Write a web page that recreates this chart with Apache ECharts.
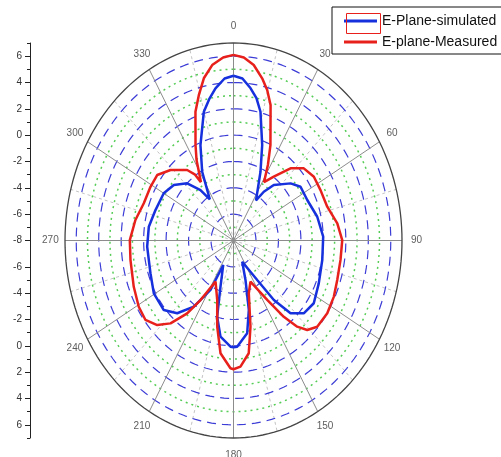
<!DOCTYPE html>
<html><head><meta charset="utf-8">
<script src="https://cdn.jsdelivr.net/npm/echarts@6/dist/echarts.min.js"></script>
<style>html,body{margin:0;padding:0;background:#fff}#c{width:501px;height:457px}</style>
</head><body><div id="c"></div>
<script>
// ---- radial scale (dB) ----
const radialMin = -8, radialMax = 7;
const ringMajor = [-6, -4, -2, 0, 2, 4, 6];      // blue dashed rings
const ringMinor = [-7, -5, -3, -1, 1, 3, 5];     // green dotted rings
const radialTickLabels = [6, 4, 2, 0, -2, -4, -6, -8, -6, -4, -2, 0, 2, 4, 6];
const radialMinorTicks = [7, 5, 3, 1, -1, -3, -5, -7, -5, -3, -1, 1, 3, 5, 7];
// ---- angle scale (deg, clockwise from top) ----
const angleTicks = [0, 30, 60, 90, 120, 150, 180, 210, 240, 270, 300, 330];
const angleMinor = [15, 45, 75, 105, 135, 165, 195, 225, 255, 285, 315, 345];
const seriesNames = ['E-Plane-simulated', 'E-plane-Measured'];

// ---- E-Plane-simulated (blue) ----
const blueAngles = [0, 3.7, 7.5, 10.7, 13.8, 19.4, 24.7, 33.3, 36.1, 40.4, 49.5, 55.6, 64.9, 76.4, 87.9, 100.6, 113.2, 123.7, 131.5, 137.4, 141.5, 144.9, 154.3, 160.4, 165.5, 170.2, 177.7, 180, 181.9, 189.0, 194.1, 198.3, 206.2, 208.6, 215.1, 222.2, 229.6, 240.5, 251.4, 266.5, 277.9, 288.4, 300.0, 308.4, 316.5, 322.5, 326.0, 331.9, 337.9, 344.9, 348.6, 352.1, 356.3, 360];
const blueValues = [4.51, 4.33, 3.66, 3.0, 2.07, -0.31, -2.25, -4.35, -3.42, -2.47, -1.32, -0.77, -0.75, -0.33, -0.01, 0.04, 0.26, 0.59, 0.35, -0.5, -2.23, -4.33, -6.21, -4.82, -2.55, -0.85, 0.07, 0.11, 0.07, -0.6, -2.03, -4.31, -5.93, -3.72, -1.86, -0.54, 0.15, 0.15, -0.2, -0.3, -0.39, -0.68, -0.83, -1.22, -2.01, -3.17, -4.23, -2.08, -0.18, 2.13, 2.95, 3.67, 4.33, 4.51];

// ---- E-plane-Measured (red) ----
const redAngles = [0, 3.8, 7.7, 11.7, 14.7, 17.8, 24.4, 28.1, 31.5, 36.5, 42.8, 48.8, 55.9, 63.7, 72.9, 82.0, 89.8, 98.8, 108.0, 115.5, 123.5, 131.3, 136.0, 139.1, 142.3, 146.4, 154.2, 161.2, 167.0, 171.0, 176.3, 180, 181.6, 187.7, 192.5, 197.8, 207.1, 213.0, 216.7, 221.7, 226.6, 232.4, 239.2, 248.4, 260.8, 270.2, 280.1, 289.5, 298.9, 306.2, 313.7, 322.4, 325.5, 326.8, 331.7, 335.0, 340.9, 344.5, 347.9, 351.9, 356.2, 360];
const redValues = [6.1, 5.93, 5.45, 4.58, 3.82, 2.8, -0.04, -1.5, -2.8, -1.97, -0.53, 0.32, 0.64, 0.64, 0.73, 1.33, 1.68, 1.64, 1.71, 1.9, 2.01, 1.92, 1.45, 0.66, -0.68, -2.58, -4.53, -3.77, -1.28, 0.67, 1.6, 1.78, 1.71, 0.64, -1.3, -3.26, -4.49, -2.61, -1.1, 0.43, 1.35, 1.89, 1.82, 1.55, 1.29, 1.23, 0.87, 0.47, 0.44, 0.42, -0.25, -1.24, -1.9, -2.7, -1.06, 0.0, 2.35, 3.5, 4.6, 5.46, 5.93, 6.1];

// polar (angle, value) -> plane coords in radial units; axes do the pixel mapping
function proj(angle, value) {
  const p = value - radialMin, t = angle * Math.PI / 180;
  return [p * Math.sin(t), p * Math.cos(t)];
}
const GAP = ['-', '-'];
function ringData(list) {
  const d = [];
  list.forEach(r => { for (let a = 0; a <= 360; a += 2) d.push(proj(a, r)); d.push(GAP); });
  return d;
}
function spokeData(list) {
  const d = [];
  list.forEach(a => { d.push(proj(a, radialMin)); d.push(proj(a, radialMax)); d.push(GAP); });
  return d;
}
const span = radialMax - radialMin;
const font = 'Liberation Sans, Arial, sans-serif';
const majorPos = radialTickLabels.map((v, i) => (i < 7 ? 1 : -1) * (v - radialMin));
const minorPos = radialMinorTicks.map((v, i) => (i < 8 ? 1 : -1) * (v - radialMin));

const gridLine = (name, data, color, width, type, z) => ({
  name, type: 'line', data, symbol: 'none', silent: true, z,
  lineStyle: { color, width, type }, clip: false, animation: false
});

const chart = echarts.init(document.getElementById('c'), null, { renderer: 'canvas' });
chart.setOption({
  animation: false,
  backgroundColor: '#fff',
  grid: { left: 65, top: 43, width: 337, height: 395, containLabel: false },
  xAxis: { type: 'value', min: -span, max: span, show: false },
  yAxis: [
    {
      type: 'value', min: -span, max: span, position: 'left', offset: 35,
      axisLine: { show: true, onZero: false, lineStyle: { color: '#222', width: 1 } },
      axisTick: { show: true, length: 5, lineStyle: { color: '#222' }, customValues: majorPos },
      axisLabel: { show: true, customValues: majorPos, margin: 8, fontSize: 10, color: '#333', fontFamily: font,
        formatter: v => String(Math.abs(v) + radialMin) },
      splitLine: { show: false }
    },
    {
      type: 'value', min: -span, max: span, position: 'left', offset: 35,
      axisLine: { show: false, onZero: false },
      axisTick: { show: true, length: 3, lineStyle: { color: '#222' }, customValues: minorPos },
      axisLabel: { show: false },
      splitLine: { show: false }
    }
  ],
  legend: {
    data: seriesNames, orient: 'vertical', left: 332, top: 7,
    padding: [7, 6, 5, 12], itemGap: 7, itemWidth: 33, itemHeight: 3, icon: 'rect',
    borderColor: '#111', borderWidth: 1, borderRadius: 0, backgroundColor: '#fff',
    textStyle: { fontSize: 14, color: '#111', fontFamily: font, lineHeight: 14 },
    selectedMode: false
  },
  graphic: [{
    type: 'rect', left: 344, top: 11, shape: { width: 34, height: 20 },
    style: { fill: 'none', stroke: '#e8201c', lineWidth: 1 }, z: 100, silent: true
  }],
  series: [
    gridLine('minorSpokes', spokeData(angleMinor), '#c4c4c4', 1, [3, 3], 1),
    gridLine('greenRings', ringData(ringMinor), '#55cc55', 1.5, [2, 4], 2),
    gridLine('blueRings', ringData(ringMajor), '#3c3cd6', 1.2, [9, 6], 2),
    gridLine('spokes', spokeData(angleTicks), '#8c8c8c', 1, 'solid', 3),
    gridLine('outer', ringData([radialMax]), '#444', 1.3, 'solid', 3),
    {
      name: 'angleLabels', type: 'scatter', silent: true, clip: false, symbolSize: 1,
      itemStyle: { color: 'rgba(0,0,0,0)' },
      data: angleTicks.map(a => ({ name: String(a), value: proj(a, radialMax + 1.3) })),
      label: { show: true, position: 'inside', formatter: '{b}', fontSize: 10, color: '#333', fontFamily: font }
    },
    {
      name: seriesNames[0], type: 'line', symbol: 'none', clip: false, z: 5,
      data: blueAngles.map((a, i) => proj(a, blueValues[i])),
      lineStyle: { color: '#1530dc', width: 2.5 }, itemStyle: { color: '#1530dc' }
    },
    {
      name: seriesNames[1], type: 'line', symbol: 'none', clip: false, z: 5,
      data: redAngles.map((a, i) => proj(a, redValues[i])),
      lineStyle: { color: '#e8201c', width: 2.5 }, itemStyle: { color: '#e8201c' }
    }
  ]
});
</script></body></html>
